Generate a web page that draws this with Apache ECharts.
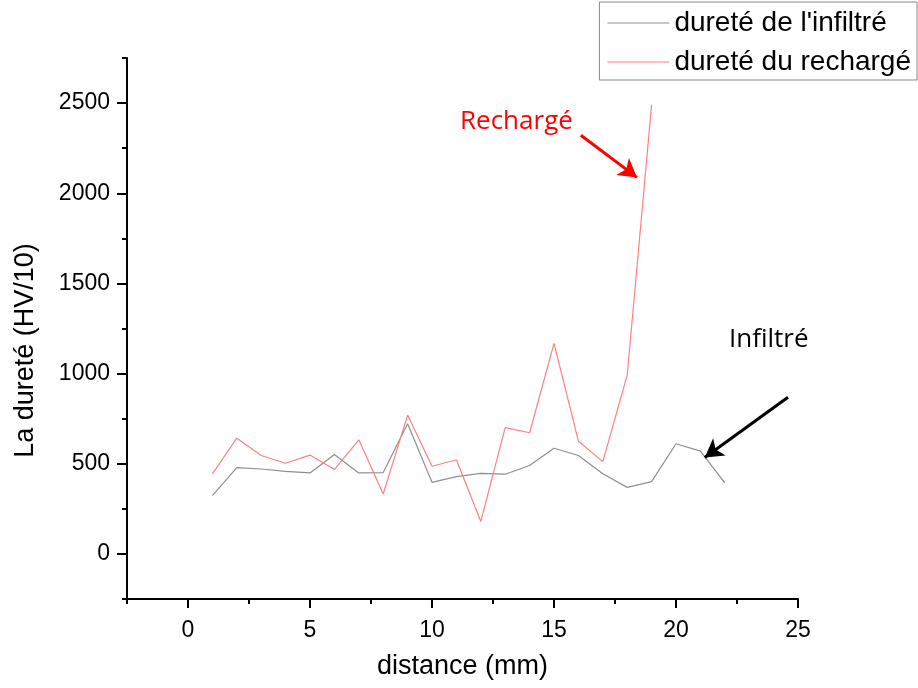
<!DOCTYPE html>
<html>
<head>
<meta charset="utf-8">
<script src="https://cdn.jsdelivr.net/npm/echarts@6/dist/echarts.min.js"></script>
<style>
  html, body { margin: 0; padding: 0; background: #fff; }
  #chart { width: 918px; height: 688px; }
</style>
</head>
<body>
<div id="chart"></div>
<script>
// distance (mm)
const distInfiltre = [1, 2, 3, 4, 5, 6, 7, 8, 9, 10, 11, 12, 13, 14, 15, 16, 17, 18, 19, 20, 21, 22];
const dureteInfiltre = [323, 479, 471, 458, 449, 551, 449, 451, 722, 397, 429, 447, 442, 490, 586, 546, 444, 369, 401, 611, 570, 394];
const distRecharge = [1, 2, 3, 4, 5, 6, 7, 8, 9, 10, 11, 12, 13, 14, 15, 16, 17, 18, 19];
const dureteRecharge = [444, 642, 546, 503, 548, 468, 633, 332, 770, 486, 522, 180, 700, 672, 1168, 625, 512, 991, 2490];

// ticks
const xMajorTicks = [0, 5, 10, 15, 20, 25];
const yMajorTicks = [0, 500, 1000, 1500, 2000, 2500];

// annotations (data coords)
const rechargeLabel = { text: "Rechargé", at: [13.46, 2400] };
const rechargeArrow = [[16.1, 2322], [18.4, 2088]];
const infiltreLabel = { text: "Infiltré", at: [23.8, 1186] };
const infiltreArrow = [[24.59, 869], [21.18, 535]];

const chart = echarts.init(document.getElementById("chart"), null, { renderer: "canvas" });

const axisFont = "Liberation Sans";
const zip = (xs, ys) => xs.map((x, i) => [x, ys[i]]);
const black = { color: "#000", width: 2 };
const onlyMajor = (list) => (v) => (list.indexOf(v) >= 0 ? String(v) : "");

// grid size, used to pull the opposite axis onto the main one
const gridLeft = 127, gridRight = 120, gridTop = 58, gridBottom = 89;
const gridW = 918 - gridLeft - gridRight;
const gridH = 688 - gridTop - gridBottom;

// long ticks: opposite-side axis moved over the main axis, ticks pointing outward
function majorTickAxis(pos, shift, min, max, values, len) {
  return {
    type: "value",
    position: pos,
    offset: -shift,
    min: min,
    max: max,
    axisLine: { show: false, onZero: false },
    axisTick: { show: true, inside: true, customValues: values, length: len, lineStyle: black },
    axisLabel: { show: false },
    splitLine: { show: false },
  };
}

const option = {
  animation: false,
  grid: { left: gridLeft, right: gridRight, top: gridTop, bottom: gridBottom },
  legend: {
    orient: "vertical",
    right: 1,
    top: 2,
    padding: [5, 6, 2, 8],
    icon: "rect",
    itemWidth: 62,
    itemHeight: 1,
    itemGap: 7,
    borderColor: "#888",
    borderWidth: 1,
    textStyle: { fontFamily: axisFont, fontSize: 28, color: "#000", lineHeight: 32 },
    data: ["dureté de l'infiltré", "dureté du rechargé"],
  },
  xAxis: [
    {
      type: "value",
      min: -2.5,
      max: 25,
      interval: 2.5,
      name: "distance (mm)",
      nameLocation: "middle",
      nameGap: 54,
      nameTextStyle: { fontFamily: axisFont, fontSize: 27, color: "#000" },
      axisLine: { onZero: false, lineStyle: black },
      axisTick: { show: true, length: 5, lineStyle: black },
      axisLabel: { margin: 20, fontFamily: axisFont, fontSize: 23, color: "#000", formatter: onlyMajor(xMajorTicks) },
      splitLine: { show: false },
    },
    majorTickAxis("top", gridH, -2.5, 25, xMajorTicks, 9),
  ],
  yAxis: [
    {
      type: "value",
      min: -250,
      max: 2750,
      interval: 250,
      name: "La dureté (HV/10)",
      nameLocation: "middle",
      nameGap: 88,
      nameTextStyle: { fontFamily: axisFont, fontSize: 27, color: "#000", padding: [0, 44, 0, 0] },
      axisLine: { show: true, onZero: false, lineStyle: black },
      axisTick: { show: true, length: 5, lineStyle: black },
      axisLabel: { margin: 17, fontFamily: axisFont, fontSize: 23, color: "#000", formatter: onlyMajor(yMajorTicks) },
      splitLine: { show: false },
    },
    majorTickAxis("right", gridW, -250, 2750, yMajorTicks, 10),
  ],
  series: [
    {
      name: "dureté de l'infiltré",
      type: "line",
      symbol: "none",
      color: "#8f8f8f",
      lineStyle: { width: 1.2, color: "#8f8f8f" },
      data: zip(distInfiltre, dureteInfiltre),
      markLine: {
        silent: true,
        symbol: ["none", "arrow"],
        symbolSize: [16, 18],
        label: { show: false },
        lineStyle: { color: "#000", width: 3, type: "solid" },
        data: [[{ coord: infiltreArrow[0] }, { coord: infiltreArrow[1] }]],
      },
      markPoint: {
        silent: true,
        symbol: "circle",
        symbolSize: 0,
        label: { show: true, formatter: infiltreLabel.text, fontFamily: "Open Sans", fontSize: 26, color: "#000" },
        data: [{ coord: infiltreLabel.at }],
      },
    },
    {
      name: "dureté du rechargé",
      type: "line",
      symbol: "none",
      color: "#ff8080",
      lineStyle: { width: 1.2, color: "#ff8080" },
      data: zip(distRecharge, dureteRecharge),
      markLine: {
        silent: true,
        symbol: ["none", "arrow"],
        symbolSize: [16, 18],
        label: { show: false },
        lineStyle: { color: "#ff0000", width: 3, type: "solid" },
        data: [[{ coord: rechargeArrow[0] }, { coord: rechargeArrow[1] }]],
      },
      markPoint: {
        silent: true,
        symbol: "circle",
        symbolSize: 0,
        label: { show: true, formatter: rechargeLabel.text, fontFamily: "Open Sans", fontSize: 26, color: "#ff0000" },
        data: [{ coord: rechargeLabel.at }],
      },
    },
  ],
};

chart.setOption(option);
</script>
</body>
</html>
